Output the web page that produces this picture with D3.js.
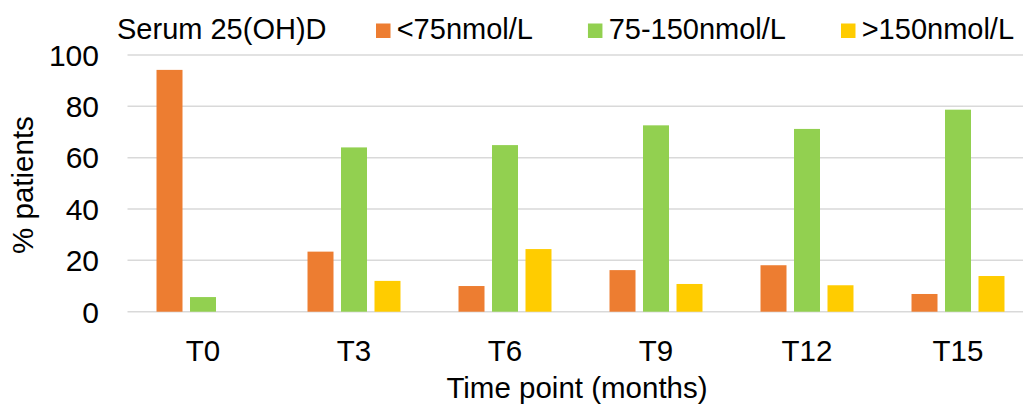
<!DOCTYPE html>
<html>
<head>
<meta charset="utf-8">
<script src="https://cdn.jsdelivr.net/npm/d3@7"></script>
<style>
  body { margin: 0; background: #fff; }
  svg text { font-family: "Liberation Sans", Arial, sans-serif; fill: #000; }
</style>
</head>
<body>
<div id="chart"></div>
<script>
// data
const timePoints = ["T0", "T3", "T6", "T9", "T12", "T15"];
const seriesNames = ["<75nmol/L", "75-150nmol/L", ">150nmol/L"];
const below75 = [94.2, 23.4, 10.0, 16.2, 18.1, 6.9];
const mid75to150 = [5.7, 64.0, 64.9, 72.6, 71.2, 78.7];
const above150 = [0, 12.0, 24.4, 10.8, 10.3, 13.9];
const yTicks = [0, 20, 40, 60, 80, 100];
const colors = ["#ED7D31", "#92D050", "#FFCC00"];

const width = 1023, height = 405;
const svg = d3.select("#chart").append("svg")
    .attr("width", width)
    .attr("height", height);

const values = [below75, mid75to150, above150];
const rows = [];
timePoints.forEach((t, i) => {
    seriesNames.forEach((s, j) => {
        rows.push({time: t, series: s, value: values[j][i], color: colors[j]});
    });
});

let x0 = d3.scaleBand().domain(timePoints).range([127.5, 1033.5]);
let x1 = d3.scaleBand().domain(seriesNames)
    .range([0, x0.bandwidth()])
    .paddingInner(0.224)
    .paddingOuter(0.866);
let y = d3.scaleLinear().domain([0, 100]).range([311.7, 55]);

// gridlines
svg.append("g").selectAll("line")
    .data(yTicks)
    .enter().append("line")
    .attr("x1", 127.5).attr("x2", width)
    .attr("y1", d => y(d)).attr("y2", d => y(d))
    .attr("stroke", "#d9d9d9")
    .attr("stroke-width", 1.5);

// y tick labels
svg.append("g").selectAll("text")
    .data(yTicks)
    .enter().append("text")
    .attr("x", 99)
    .attr("y", d => y(d))
    .attr("dy", "0.36em")
    .attr("text-anchor", "end")
    .style("font-size", "30px")
    .text(d => d);

// bars
svg.append("g").selectAll("rect")
    .data(rows)
    .enter().append("rect")
    .attr("x", d => x0(d.time) + x1(d.series))
    .attr("width", x1.bandwidth())
    .attr("y", d => y(d.value))
    .attr("height", d => y(0) - y(d.value))
    .attr("fill", d => d.color);

// x labels
svg.append("g").selectAll("text")
    .data(timePoints)
    .enter().append("text")
    .attr("x", d => x0(d) + x0.bandwidth() / 2)
    .attr("y", 361)
    .attr("text-anchor", "middle")
    .style("font-size", "29.5px")
    .text(d => d);

// axis titles
svg.append("text")
    .attr("x", 577)
    .attr("y", 398)
    .attr("text-anchor", "middle")
    .style("font-size", "29.5px")
    .text("Time point (months)");

svg.append("text")
    .attr("transform", "translate(33,185) rotate(-90)")
    .attr("text-anchor", "middle")
    .style("font-size", "29.5px")
    .text("% patients");

// legend
let legend = svg.append("g");
legend.append("text")
    .attr("x", 117)
    .attr("y", 39)
    .style("font-size", "29px")
    .text("Serum 25(OH)D");

let lx = 376;
seriesNames.forEach((s, j) => {
    legend.append("rect")
        .attr("x", lx).attr("y", 23.5)
        .attr("width", 14.5).attr("height", 14.5)
        .attr("fill", colors[j]);
    let t = legend.append("text")
        .attr("x", lx + 20.7)
        .attr("y", 39)
        .style("font-size", "29px")
        .text(s);
    lx = lx + 20.7 + t.node().getComputedTextLength() + 55;
});
</script>
</body>
</html>
